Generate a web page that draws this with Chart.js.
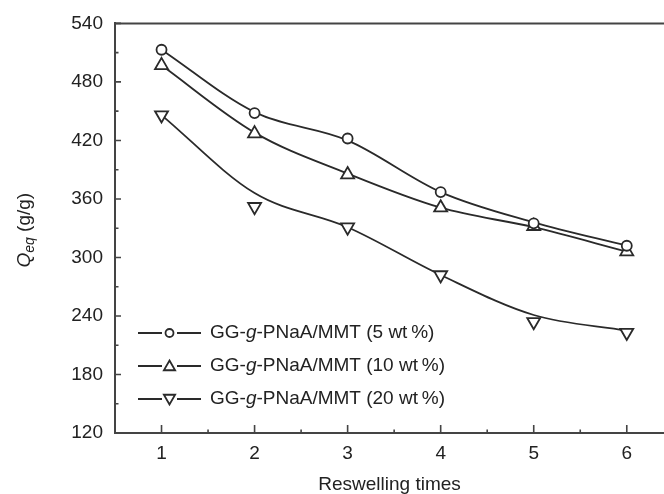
<!DOCTYPE html>
<html>
<head>
<meta charset="utf-8">
<script src="https://cdn.jsdelivr.net/npm/chart.js@4.4.0/dist/chart.umd.min.js"></script>
<style>
  html, body { margin: 0; padding: 0; background: #fff; overflow: hidden; }
  #wrap { position: relative; width: 664px; height: 494px; }
</style>
</head>
<body>
<div id="wrap"><canvas id="qeqChart" width="664" height="494"></canvas></div>
<script>
// reswelling cycles
var reswellingTimes = [1, 2, 3, 4, 5, 6];

// measured Qeq points (g/g)
var qeq5 = [513, 448, 422, 367, 335, 312];
var qeq10 = [497, 427, 385, 351, 332, 306];
var qeq20 = [446, 352, 331, 282, 234, 223];

// smooth fit lines
var fit5 = [513, 449, 420, 367, 336, 312];
var fit10 = [497, 428, 386, 351, 331, 306];
var fit20 = [446, 366, 331, 282, 241, 225];

var yTicks = [120, 180, 240, 300, 360, 420, 480, 540];
var legendLabels = [
  ["GG-", "g", "-PNaA/MMT (5 wt\u2009%)"],
  ["GG-", "g", "-PNaA/MMT (10 wt\u2009%)"],
  ["GG-", "g", "-PNaA/MMT (20 wt\u2009%)"]
];

var ink = "#2a2a2a";
var fontFam = "'Liberation Sans', Arial, sans-serif";

function pts(arr) {
  return arr.map(function (v, i) { return { x: reswellingTimes[i], y: v }; });
}

function pointSet(arr, style, r, rot) {
  return {
    data: pts(arr),
    showLine: false,
    pointStyle: style,
    pointRadius: r,
    pointRotation: rot,
    pointBorderWidth: 1.8,
    pointBorderColor: ink,
    pointBackgroundColor: "#fff",
    order: 0
  };
}

function fitSet(arr) {
  return {
    data: pts(arr),
    showLine: true,
    borderColor: ink,
    borderWidth: 1.8,
    pointRadius: 0,
    cubicInterpolationMode: "monotone",
    fill: false,
    order: 1
  };
}

/* tick marks inside, top frame, legend and y title */
var decorPlugin = {
  id: "decor",
  afterDraw: function (chart) {
    var ctx = chart.ctx;
    var area = chart.chartArea;
    var xs = chart.scales.x;
    var ys = chart.scales.y;

    ctx.save();
    ctx.strokeStyle = "#444";
    ctx.lineWidth = 2;
    ctx.beginPath();
    ctx.moveTo(area.left, area.top);
    ctx.lineTo(area.right + 2, area.top);
    ctx.stroke();

    ctx.lineWidth = 1.6;
    ctx.beginPath();
    for (var i = 0; i < yTicks.length; i++) {
      var py = ys.getPixelForValue(yTicks[i]);
      ctx.moveTo(area.left, py);
      ctx.lineTo(area.left + 6, py);
      if (i < yTicks.length - 1) {
        var my = ys.getPixelForValue(yTicks[i] + 30);
        ctx.moveTo(area.left, my);
        ctx.lineTo(area.left + 3.5, my);
      }
    }
    for (var j = 0; j < reswellingTimes.length; j++) {
      var px = xs.getPixelForValue(reswellingTimes[j]);
      ctx.moveTo(px, area.bottom);
      ctx.lineTo(px, area.bottom - 8);
      var mx = xs.getPixelForValue(reswellingTimes[j] + 0.5);
      if (mx < area.right) {
        ctx.moveTo(mx, area.bottom);
        ctx.lineTo(mx, area.bottom - 3.5);
      }
    }
    ctx.stroke();

    // legend
    var styles = [["circle", 4, 0], ["triangle", 6.5, 0], ["triangle", 6.5, 180]];
    var rowY = [333, 366, 399];
    for (var k = 0; k < 3; k++) {
      var ly = rowY[k];
      ctx.strokeStyle = ink;
      ctx.lineWidth = 1.8;
      ctx.beginPath();
      ctx.moveTo(138, ly);
      ctx.lineTo(162, ly);
      ctx.moveTo(177, ly);
      ctx.lineTo(201, ly);
      ctx.stroke();
      ctx.fillStyle = "#fff";
      Chart.helpers.drawPoint(ctx, {
        pointStyle: styles[k][0], radius: styles[k][1],
        rotation: styles[k][2], borderWidth: 1.8
      }, 169.5, ly + (k === 0 ? 0 : (k === 1 ? 1 : -1)));

      ctx.fillStyle = "#222";
      ctx.textBaseline = "middle";
      ctx.textAlign = "left";
      var tx = 210;
      var parts = legendLabels[k];
      for (var p = 0; p < parts.length; p++) {
        ctx.font = (p === 1 ? "italic " : "") + "19px " + fontFam;
        ctx.fillText(parts[p], tx, ly);
        tx += ctx.measureText(parts[p]).width;
      }
    }

    // y axis title: Q_eq (g/g)
    ctx.translate(25, (area.top + area.bottom) / 2 + 2);
    ctx.rotate(-Math.PI / 2);
    ctx.fillStyle = "#222";
    ctx.textBaseline = "middle";
    ctx.textAlign = "left";
    var f1 = "italic 19px " + fontFam;
    var f2 = "italic 14px " + fontFam;
    var f3 = "19px " + fontFam;
    ctx.font = f1; var w1 = ctx.measureText("Q").width;
    ctx.font = f2; var w2 = ctx.measureText("eq").width;
    ctx.font = f3; var w3 = ctx.measureText(" (g/g)").width;
    var sx = -(w1 + w2 + w3) / 2;
    ctx.font = f1; ctx.fillText("Q", sx, 0);
    ctx.font = f2; ctx.fillText("eq", sx + w1, 5);
    ctx.font = f3; ctx.fillText(" (g/g)", sx + w1 + w2, 0);
    ctx.restore();
  }
};

var ctx = document.getElementById("qeqChart");
var myChart = new Chart(ctx, {
  type: "scatter",
  data: {
    datasets: [
      pointSet(qeq5, "circle", 5, 0),
      pointSet(qeq10, "triangle", 7.5, 0),
      pointSet(qeq20, "triangle", 7.5, 180),
      fitSet(fit5),
      fitSet(fit10),
      fitSet(fit20)
    ]
  },
  options: {
    responsive: false,
    animation: false,
    layout: { autoPadding: false, padding: { top: 18, right: 0, left: 0, bottom: 0 } },
    plugins: {
      legend: { display: false },
      tooltip: { enabled: false }
    },
    scales: {
      x: {
        type: "linear",
        min: 0.5,
        max: 6.4,
        afterBuildTicks: function (scale) {
          scale.ticks = reswellingTimes.map(function (v) { return { value: v }; });
        },
        afterFit: function (scale) {
          scale.height = 61;
          scale.paddingLeft = 0;
          scale.paddingRight = 0;
        },
        grid: { display: false, drawTicks: false },
        border: { display: true, color: "#444", width: 2 },
        ticks: { color: "#222", padding: 9, font: { family: fontFam, size: 19 } },
        title: {
          display: true,
          text: "Reswelling times",
          color: "#222",
          padding: { top: 0, bottom: 0 },
          font: { family: fontFam, size: 19, lineHeight: 1 }
        }
      },
      y: {
        min: 120,
        max: 540,
        afterBuildTicks: function (scale) {
          scale.ticks = yTicks.map(function (v) { return { value: v }; });
        },
        afterFit: function (scale) { scale.width = 115; },
        grid: { display: false, drawTicks: false },
        border: { display: true, color: "#444", width: 2 },
        ticks: { color: "#222", padding: 12, font: { family: fontFam, size: 19 } }
      }
    }
  },
  plugins: [decorPlugin]
});
</script>
</body>
</html>
